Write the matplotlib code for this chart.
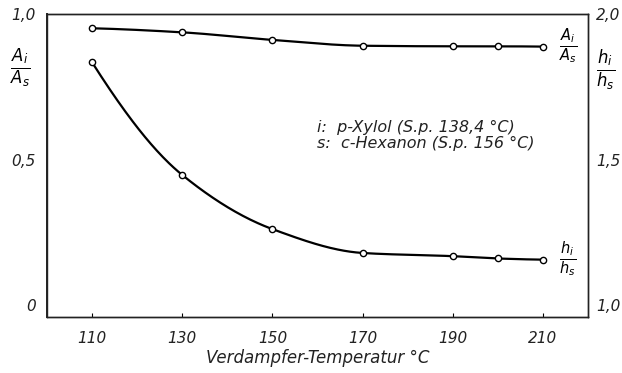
import numpy as np
import matplotlib
matplotlib.use("Agg")
import matplotlib.pyplot as plt

plt.rcParams['font.family'] = ['DejaVu Sans']
plt.rcParams['font.style'] = 'italic'
plt.rcParams['mathtext.fontset'] = 'dejavusans'
plt.rcParams['mathtext.default'] = 'it'

temps = [110, 130, 150, 170, 190, 200, 210]
ratio_A = [0.951, 0.937, 0.911, 0.891, 0.889, 0.889, 0.888]   # A_i/A_s (left axis)
ratio_h = [1.834, 1.447, 1.261, 1.179, 1.168, 1.160, 1.156]   # h_i/h_s (right axis)
xticks = [110, 130, 150, 170, 190, 210]
left_ticks = [0, 0.5, 1.0]
left_labels = ['0', '0,5', '1,0']
right_ticks = [1.0, 1.5, 2.0]
right_labels = ['1,0', '1,5', '2,0']
legend_lines = ['i:  p-Xylol (S.p. 138,4 °C)', 's:  c-Hexanon (S.p. 156 °C)']


def smooth(x, y, n=300):
    # monotone cubic (PCHIP) curve for drawing a smooth line through the points
    x = np.asarray(x, float); y = np.asarray(y, float)
    h = np.diff(x); dlt = np.diff(y) / h
    m = len(x); d = np.zeros(m)
    for k in range(1, m - 1):
        if dlt[k - 1] * dlt[k] > 0:
            w1 = 2 * h[k] + h[k - 1]; w2 = h[k] + 2 * h[k - 1]
            d[k] = (w1 + w2) / (w1 / dlt[k - 1] + w2 / dlt[k])
    d[0] = ((2 * h[0] + h[1]) * dlt[0] - h[0] * dlt[1]) / (h[0] + h[1])
    if np.sign(d[0]) != np.sign(dlt[0]):
        d[0] = 0
    d[-1] = ((2 * h[-1] + h[-2]) * dlt[-1] - h[-1] * dlt[-2]) / (h[-1] + h[-2])
    if np.sign(d[-1]) != np.sign(dlt[-1]):
        d[-1] = 0
    xs = np.linspace(x[0], x[-1], n); ys = np.empty_like(xs)
    for j, xv in enumerate(xs):
        i = min(np.searchsorted(x, xv, side='right') - 1, m - 2)
        t = (xv - x[i]) / h[i]
        h00 = 2 * t**3 - 3 * t**2 + 1; h10 = t**3 - 2 * t**2 + t
        h01 = -2 * t**3 + 3 * t**2; h11 = t**3 - t**2
        ys[j] = h00 * y[i] + h10 * h[i] * d[i] + h01 * y[i + 1] + h11 * h[i] * d[i + 1]
    return xs, ys


fig = plt.figure(figsize=(6.22, 3.73), dpi=100)
ax = fig.add_axes([47 / 622, 1 - 317 / 373, 541 / 622, 303 / 373])
ax2 = ax.twinx()

ax.set_xlim(100, 220)
ax.set_ylim(-0.041, 1.0)
ax2.set_ylim(0.959, 2.0)

xs, ys = smooth(temps, ratio_A)
ax.plot(xs, ys, color='black', lw=1.6, zorder=2)
ax.plot(temps, ratio_A, 'o', ms=4.5, mfc='white', mec='black', mew=1.0, zorder=3)
xs, ys = smooth(temps, ratio_h)
ax2.plot(xs, ys, color='black', lw=1.6, zorder=2)
ax2.plot(temps, ratio_h, 'o', ms=4.5, mfc='white', mec='black', mew=1.0, zorder=3)

ax.set_xticks(xticks)
ax.set_xticklabels([str(t) for t in xticks], fontsize=11, color='#222222')
ax.tick_params(axis='x', direction='in', length=3, width=0.8, pad=10)
ax.set_yticks(left_ticks)
ax.set_yticklabels(left_labels, fontsize=11, color='#222222')
ax.tick_params(axis='y', length=0, pad=8)
ax2.set_yticks(right_ticks)
ax2.set_yticklabels(right_labels, fontsize=11, color='#222222')
ax2.tick_params(axis='y', length=0, pad=6)

for a in (ax, ax2):
    for s in a.spines.values():
        s.set_linewidth(1.0)
        s.set_color('#222222')
ax.spines['left'].set_linewidth(1.4)

ax.set_xlabel('Verdampfer-Temperatur °C', fontsize=12, color='#222222', labelpad=2)

# axis ratio labels
fig.text(20 / 622, 1 - 68 / 373, r'$\frac{A_i}{A_s}$', fontsize=17, ha='center', va='center')
fig.text(606 / 622, 1 - 70 / 373, r'$\frac{h_i}{h_s}$', fontsize=17, ha='center', va='center')
# curve labels
ax.text(213.5, 0.888, r'$\frac{A_i}{A_s}$', fontsize=15, ha='left', va='center')
ax2.text(213.5, 1.156, r'$\frac{h_i}{h_s}$', fontsize=15, ha='left', va='center')

ax.text(160, 0.61, legend_lines[0], fontsize=11.5, ha='left', va='center', color='#222222')
ax.text(160, 0.555, legend_lines[1], fontsize=11.5, ha='left', va='center', color='#222222')

fig.savefig('out.png', dpi=100)
